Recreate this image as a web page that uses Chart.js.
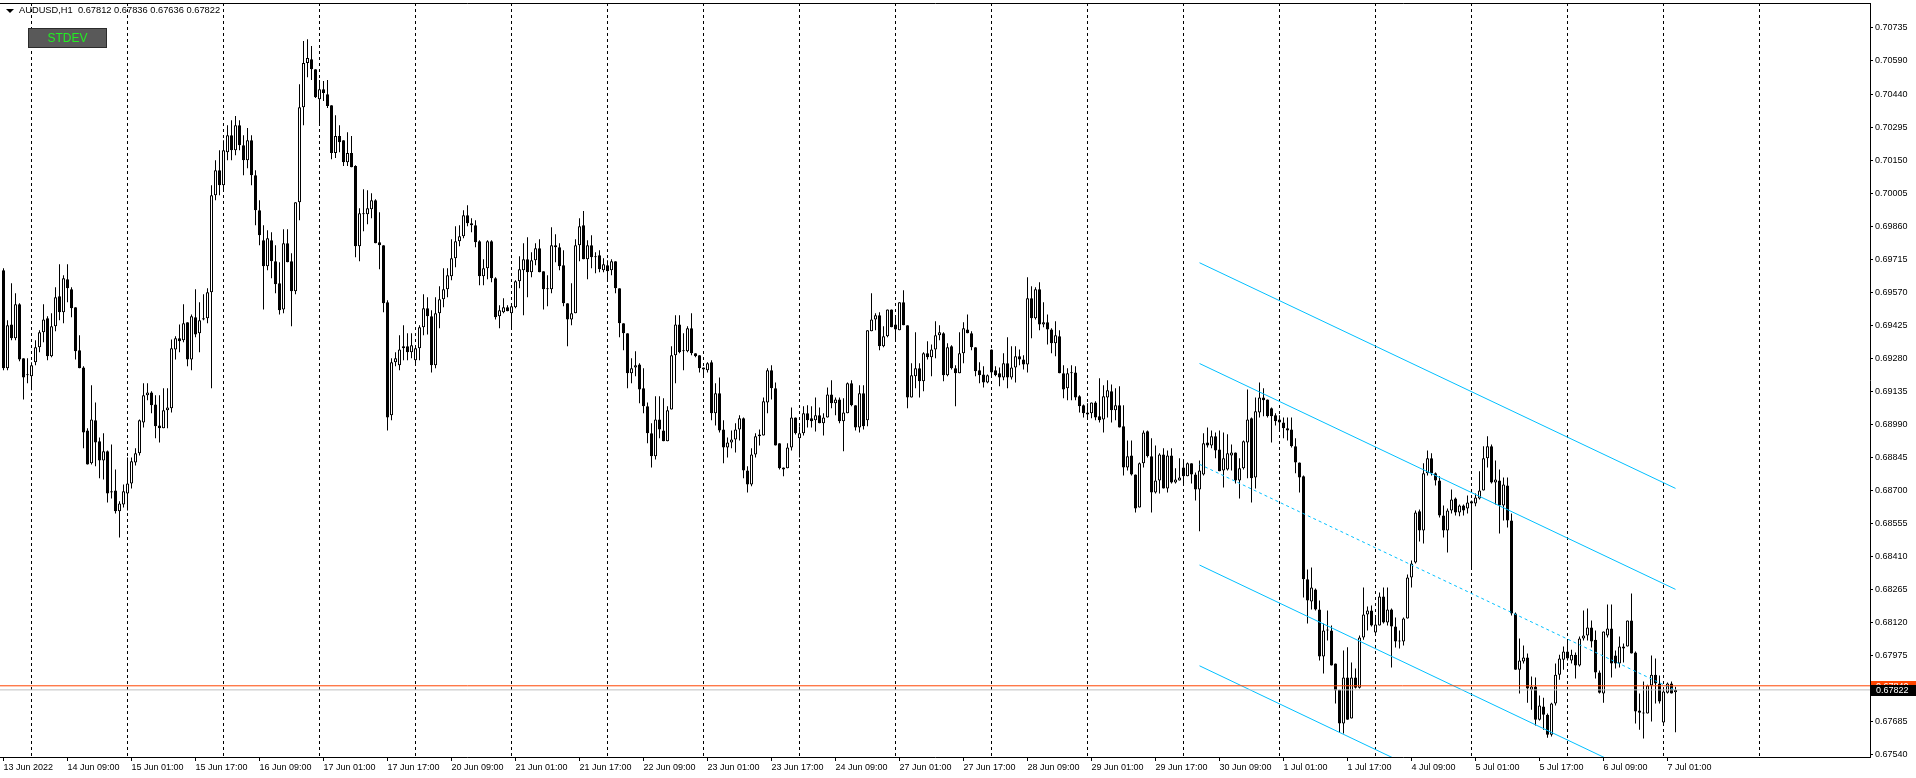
<!DOCTYPE html>
<html>
<head>
<meta charset="utf-8">
<script src="https://cdn.jsdelivr.net/npm/chart.js@4.4.0/dist/chart.umd.min.js"></script>
<style>
  html, body { margin: 0; padding: 0; background: #fff; }
  #wrap { position: relative; width: 1916px; height: 778px; overflow: hidden; }
  #myChart { display: block; }
  #tri { position: absolute; left: 6px; top: 9px; width: 0; height: 0;
    border-left: 4px solid transparent; border-right: 4px solid transparent; border-top: 4px solid #000; }
  #header { position: absolute; left: 19px; top: 5px; font: 9.3px "Liberation Sans", Arial, sans-serif;
    line-height: 11px; color: #000; white-space: pre; }
  #btn { position: absolute; left: 28px; top: 28px; width: 79px; height: 20px; box-sizing: border-box;
    background: #595959; border: 1px solid #2b2b2b; color: #22ee22; text-align: center;
    font: 12px "Liberation Sans", Arial, sans-serif; line-height: 18px; }
</style>
</head>
<body>
<div id="wrap">
  <canvas id="myChart" width="1916" height="778"></canvas>
  <div id="tri"></div>
  <div id="header">AUDUSD,H1  0.67812 0.67836 0.67636 0.67822</div>
  <div id="btn">STDEV</div>
</div>
<script>
// hourly bars, 13 Jun 2022 17:00 .. 7 Jul 2022 03:00
const tickLabels = ["13 Jun 2022", "14 Jun 09:00", "15 Jun 01:00", "15 Jun 17:00", "16 Jun 09:00",
  "17 Jun 01:00", "17 Jun 17:00", "20 Jun 09:00", "21 Jun 01:00", "21 Jun 17:00", "22 Jun 09:00",
  "23 Jun 01:00", "23 Jun 17:00", "24 Jun 09:00", "27 Jun 01:00", "27 Jun 17:00", "28 Jun 09:00",
  "29 Jun 01:00", "29 Jun 17:00", "30 Jun 09:00", "1 Jul 01:00", "1 Jul 17:00", "4 Jul 09:00",
  "5 Jul 01:00", "5 Jul 17:00", "6 Jul 09:00", "7 Jul 01:00"];
const labelEvery = 16;   // bars between time labels
const firstMidnight = 7; // bar index of 14 Jun 00:00
const barsPerDay = 24;

const priceTicks = [0.67540, 0.67685, 0.67975, 0.68120, 0.68265, 0.68410, 0.68555, 0.68700,
  0.68845, 0.68990, 0.69135, 0.69280, 0.69425, 0.69570, 0.69715, 0.69860, 0.70005, 0.70150,
  0.70295, 0.70440, 0.70590, 0.70735];

const open = [
  0.69667,0.69236,0.69429,0.69368,0.69517,0.69280,0.69209,0.69201,0.69262,0.69328,
  0.69394,0.69456,0.69289,0.69421,0.69553,0.69482,0.69627,0.69583,0.69504,0.69315,
  0.69240,0.68963,0.68818,0.69007,0.68915,0.68831,0.68871,0.68695,0.68699,0.68607,
  0.68637,0.68686,0.68730,0.68822,0.68862,0.68998,0.69117,0.69130,0.69077,0.68985,
  0.68972,0.69051,0.69060,0.69319,0.69368,0.69359,0.69438,0.69275,0.69460,0.69390,
  0.69456,0.69456,0.69570,0.69997,0.70107,0.70041,0.70186,0.70261,0.70195,0.70305,
  0.70217,0.70151,0.70239,0.70085,0.69931,0.69799,0.69685,0.69799,0.69707,0.69610,
  0.69495,0.69786,0.69707,0.69575,0.69966,0.70384,0.70578,0.70595,0.70551,0.70419,
  0.70463,0.70441,0.70393,0.70182,0.70257,0.70239,0.70142,0.70182,0.70125,0.69773,
  0.69918,0.69913,0.69935,0.69975,0.69790,0.69777,0.69526,0.69029,0.69262,0.69249,
  0.69324,0.69333,0.69306,0.69271,0.69324,0.69416,0.69500,0.69465,0.69249,0.69478,
  0.69539,0.69583,0.69641,0.69720,0.69795,0.69817,0.69909,0.69874,0.69865,0.69795,
  0.69641,0.69676,0.69795,0.69632,0.69465,0.69482,0.69504,0.69478,0.69504,0.69619,
  0.69667,0.69715,0.69658,0.69711,0.69764,0.69663,0.69588,0.69583,0.69777,0.69768,
  0.69689,0.69522,0.69451,0.69478,0.69777,0.69865,0.69715,0.69777,0.69724,0.69733,
  0.69667,0.69689,0.69667,0.69707,0.69588,0.69434,0.69390,0.69214,0.69240,0.69253,
  0.69148,0.69069,0.68950,0.68849,0.69011,0.68963,0.68915,0.69055,0.69293,0.69429,
  0.69311,0.69311,0.69412,0.69302,0.69293,0.69240,0.69227,0.69262,0.69038,0.69126,
  0.68967,0.68888,0.68910,0.68923,0.68967,0.69016,0.68787,0.68725,0.68857,0.68937,
  0.68941,0.69086,0.69227,0.69148,0.68906,0.68800,0.68796,0.68888,0.69020,0.68928,
  0.68950,0.69038,0.69016,0.69007,0.69029,0.68994,0.69020,0.69121,0.69082,0.69099,
  0.69003,0.69038,0.69170,0.69073,0.68976,0.69126,0.69007,0.69399,0.69451,0.69469,
  0.69333,0.69377,0.69495,0.69429,0.69403,0.69526,0.69425,0.69108,0.69201,0.69236,
  0.69179,0.69302,0.69284,0.69319,0.69381,0.69390,0.69205,0.69333,0.69236,0.69214,
  0.69302,0.69407,0.69390,0.69328,0.69227,0.69209,0.69174,0.69319,0.69227,0.69214,
  0.69196,0.69258,0.69196,0.69240,0.69289,0.69275,0.69253,0.69544,0.69456,0.69583,
  0.69429,0.69438,0.69407,0.69346,0.69377,0.69214,0.69148,0.69218,0.69218,0.69113,
  0.69073,0.69042,0.69038,0.69086,0.69025,0.69011,0.69108,0.69135,0.69051,0.69073,
  0.68981,0.68800,0.68853,0.68769,0.68624,0.68818,0.68959,0.68849,0.68690,0.68743,
  0.68857,0.68708,0.68853,0.68734,0.68743,0.68800,0.68761,0.68818,0.68769,0.68703,
  0.68769,0.68910,0.68897,0.68937,0.68879,0.68787,0.68791,0.68853,0.68866,0.68743,
  0.68796,0.68910,0.69016,0.68756,0.69042,0.69108,0.69099,0.69060,0.69029,0.69011,
  0.68998,0.68972,0.68967,0.68893,0.68822,0.68761,0.68308,0.68211,0.68263,0.68175,
  0.67969,0.68083,0.68083,0.67938,0.67823,0.67674,0.67876,0.67696,0.67876,0.67832,
  0.68052,0.68154,0.68171,0.68074,0.68105,0.68233,0.68118,0.68175,0.68101,0.68035,
  0.68035,0.68136,0.68316,0.68382,0.68607,0.68523,0.68774,0.68840,0.68774,0.68743,
  0.68589,0.68523,0.68611,0.68664,0.68602,0.68633,0.68620,0.68651,0.68642,0.68664,
  0.68699,0.68840,0.68893,0.68734,0.68743,0.68633,0.68721,0.68567,0.68158,0.67911,
  0.67947,0.67964,0.67823,0.67837,0.67691,0.67749,0.67713,0.67625,0.67762,0.67889,
  0.67955,0.67991,0.67951,0.67977,0.67929,0.68048,0.68061,0.68096,0.68043,0.67898,
  0.67806,0.68061,0.68092,0.67973,0.67938,0.68004,0.68013,0.68127,0.67986,0.67731,
  0.67722,0.67718,0.67841,0.67889,0.67850,0.67679,0.67810,0.67850,0.67812
];
const high = [
  0.69676,0.69447,0.69610,0.69566,0.69522,0.69280,0.69280,0.69262,0.69359,0.69403,
  0.69517,0.69465,0.69478,0.69592,0.69693,0.69645,0.69693,0.69592,0.69504,0.69381,
  0.69245,0.68972,0.69161,0.69086,0.68932,0.68950,0.68875,0.68901,0.68791,0.68651,
  0.68725,0.68844,0.68844,0.68884,0.69011,0.69170,0.69170,0.69135,0.69117,0.69117,
  0.69148,0.69148,0.69363,0.69377,0.69429,0.69517,0.69438,0.69473,0.69583,0.69526,
  0.69561,0.69588,0.70041,0.70151,0.70195,0.70239,0.70305,0.70327,0.70345,0.70327,
  0.70261,0.70292,0.70261,0.70107,0.69975,0.69865,0.69843,0.69834,0.69777,0.69702,
  0.69847,0.69847,0.69742,0.69966,0.70485,0.70675,0.70683,0.70653,0.70551,0.70503,
  0.70499,0.70503,0.70393,0.70349,0.70305,0.70239,0.70274,0.70257,0.70129,0.69940,
  0.70023,0.70019,0.70006,0.69979,0.69922,0.69777,0.69535,0.69280,0.69306,0.69381,
  0.69425,0.69390,0.69390,0.69337,0.69425,0.69561,0.69548,0.69491,0.69548,0.69597,
  0.69676,0.69676,0.69803,0.69861,0.69865,0.69931,0.69953,0.69896,0.69887,0.69799,
  0.69715,0.69799,0.69799,0.69636,0.69513,0.69544,0.69513,0.69522,0.69623,0.69729,
  0.69786,0.69812,0.69746,0.69786,0.69803,0.69663,0.69645,0.69856,0.69825,0.69786,
  0.69755,0.69522,0.69610,0.69803,0.69896,0.69927,0.69799,0.69821,0.69746,0.69755,
  0.69720,0.69711,0.69715,0.69707,0.69588,0.69434,0.69390,0.69280,0.69311,0.69258,
  0.69236,0.69086,0.68994,0.69113,0.69113,0.69104,0.69069,0.69333,0.69469,0.69469,
  0.69390,0.69421,0.69478,0.69302,0.69293,0.69240,0.69262,0.69271,0.69170,0.69196,
  0.69007,0.68932,0.68963,0.68994,0.69029,0.69020,0.68805,0.68884,0.68950,0.68967,
  0.69108,0.69236,0.69249,0.69174,0.68906,0.68800,0.68906,0.69064,0.69020,0.68981,
  0.69069,0.69073,0.69069,0.69108,0.69064,0.69038,0.69152,0.69183,0.69108,0.69108,
  0.69104,0.69174,0.69183,0.69073,0.69161,0.69161,0.69403,0.69566,0.69478,0.69482,
  0.69421,0.69495,0.69495,0.69460,0.69526,0.69579,0.69425,0.69258,0.69394,0.69258,
  0.69306,0.69355,0.69341,0.69443,0.69425,0.69394,0.69346,0.69337,0.69249,0.69394,
  0.69438,0.69473,0.69399,0.69328,0.69262,0.69245,0.69209,0.69319,0.69245,0.69240,
  0.69302,0.69372,0.69333,0.69333,0.69319,0.69293,0.69636,0.69597,0.69592,0.69614,
  0.69526,0.69473,0.69412,0.69443,0.69403,0.69249,0.69236,0.69249,0.69245,0.69117,
  0.69077,0.69082,0.69086,0.69091,0.69192,0.69161,0.69183,0.69165,0.69148,0.69157,
  0.69073,0.68919,0.68919,0.68769,0.68822,0.68963,0.68963,0.68928,0.68897,0.68862,
  0.68884,0.68875,0.68884,0.68796,0.68840,0.68831,0.68822,0.68818,0.68778,0.68831,
  0.68950,0.68976,0.68963,0.68954,0.68963,0.68954,0.68946,0.68901,0.68866,0.68840,
  0.68919,0.69143,0.69020,0.69108,0.69174,0.69148,0.69099,0.69064,0.69038,0.69029,
  0.69020,0.69020,0.69020,0.68928,0.68822,0.68765,0.68351,0.68360,0.68268,0.68215,
  0.68114,0.68171,0.68105,0.67938,0.67823,0.67995,0.68009,0.67942,0.67916,0.68061,
  0.68272,0.68189,0.68193,0.68140,0.68250,0.68272,0.68272,0.68180,0.68140,0.68083,
  0.68140,0.68329,0.68391,0.68611,0.68615,0.68818,0.68875,0.68862,0.68778,0.68761,
  0.68633,0.68620,0.68703,0.68668,0.68637,0.68637,0.68677,0.68655,0.68686,0.68783,
  0.68893,0.68937,0.68901,0.68831,0.68791,0.68756,0.68756,0.68598,0.68162,0.68048,
  0.68017,0.67982,0.67881,0.67876,0.67797,0.67788,0.67718,0.67766,0.67938,0.67977,
  0.68013,0.68043,0.67999,0.67986,0.68057,0.68171,0.68180,0.68127,0.68083,0.67907,
  0.68079,0.68197,0.68197,0.67995,0.68057,0.68026,0.68127,0.68246,0.67991,0.67806,
  0.67859,0.67845,0.67973,0.67960,0.67885,0.67827,0.67854,0.67859,0.67836
];
const low = [
  0.69227,0.69227,0.69359,0.69359,0.69267,0.69099,0.69170,0.69139,0.69249,0.69306,
  0.69350,0.69271,0.69284,0.69399,0.69447,0.69434,0.69526,0.69460,0.69275,0.69236,
  0.68884,0.68813,0.68813,0.68805,0.68752,0.68747,0.68646,0.68664,0.68598,0.68492,
  0.68624,0.68611,0.68708,0.68809,0.68853,0.68976,0.69095,0.69038,0.68928,0.68910,
  0.68972,0.68972,0.69042,0.69275,0.69306,0.69350,0.69245,0.69227,0.69372,0.69306,
  0.69447,0.69434,0.69148,0.69975,0.69997,0.70019,0.70151,0.70151,0.70173,0.70195,
  0.70085,0.70116,0.70041,0.69865,0.69777,0.69495,0.69667,0.69632,0.69566,0.69473,
  0.69478,0.69702,0.69421,0.69561,0.69887,0.70305,0.70516,0.70503,0.70424,0.70305,
  0.70411,0.70380,0.70155,0.70160,0.70186,0.70125,0.70125,0.70120,0.69724,0.69707,
  0.69839,0.69869,0.69896,0.69786,0.69671,0.69482,0.68963,0.69007,0.69245,0.69227,
  0.69271,0.69271,0.69280,0.69249,0.69271,0.69381,0.69385,0.69218,0.69236,0.69412,
  0.69504,0.69548,0.69623,0.69680,0.69773,0.69808,0.69861,0.69834,0.69768,0.69601,
  0.69601,0.69627,0.69614,0.69451,0.69412,0.69478,0.69487,0.69412,0.69500,0.69588,
  0.69469,0.69548,0.69636,0.69689,0.69658,0.69495,0.69509,0.69566,0.69702,0.69667,
  0.69509,0.69333,0.69425,0.69478,0.69707,0.69715,0.69627,0.69676,0.69654,0.69658,
  0.69658,0.69623,0.69645,0.69566,0.69372,0.69315,0.69148,0.69170,0.69201,0.69082,
  0.69038,0.68906,0.68800,0.68835,0.68928,0.68915,0.68915,0.69055,0.69170,0.69302,
  0.69227,0.69306,0.69293,0.69284,0.69218,0.69201,0.69218,0.69007,0.68985,0.68954,
  0.68818,0.68844,0.68884,0.68866,0.68919,0.68752,0.68690,0.68717,0.68844,0.68897,
  0.68941,0.69038,0.69099,0.68897,0.68791,0.68761,0.68796,0.68875,0.68945,0.68844,
  0.68941,0.68976,0.68976,0.68958,0.68994,0.68941,0.69020,0.69060,0.69029,0.68994,
  0.68871,0.69038,0.69069,0.68963,0.68954,0.68967,0.68981,0.69399,0.69403,0.69315,
  0.69328,0.69372,0.69416,0.69355,0.69403,0.69425,0.69060,0.69108,0.69148,0.69108,
  0.69135,0.69275,0.69201,0.69280,0.69359,0.69179,0.69201,0.69231,0.69069,0.69214,
  0.69258,0.69390,0.69315,0.69201,0.69170,0.69152,0.69170,0.69196,0.69201,0.69157,
  0.69183,0.69148,0.69187,0.69174,0.69249,0.69231,0.69218,0.69368,0.69451,0.69403,
  0.69416,0.69341,0.69302,0.69289,0.69214,0.69104,0.69095,0.69095,0.69095,0.69042,
  0.69020,0.69020,0.69016,0.69007,0.68998,0.68954,0.69020,0.68998,0.69007,0.68976,
  0.68765,0.68787,0.68765,0.68602,0.68624,0.68800,0.68844,0.68602,0.68686,0.68686,
  0.68708,0.68690,0.68730,0.68730,0.68743,0.68721,0.68761,0.68730,0.68655,0.68519,
  0.68765,0.68888,0.68884,0.68840,0.68783,0.68712,0.68787,0.68787,0.68730,0.68664,
  0.68791,0.68752,0.68646,0.68708,0.69020,0.69025,0.69020,0.68910,0.68985,0.68967,
  0.68928,0.68919,0.68888,0.68774,0.68690,0.68228,0.68114,0.68175,0.68171,0.67951,
  0.67894,0.68039,0.67929,0.67762,0.67634,0.67630,0.67691,0.67696,0.67828,0.67828,
  0.68043,0.68083,0.68101,0.68070,0.68105,0.68114,0.68105,0.67920,0.68008,0.68004,
  0.68017,0.68136,0.68272,0.68378,0.68475,0.68466,0.68765,0.68765,0.68721,0.68580,
  0.68492,0.68426,0.68598,0.68589,0.68585,0.68589,0.68598,0.68356,0.68629,0.68659,
  0.68699,0.68800,0.68730,0.68637,0.68510,0.68567,0.68536,0.68149,0.67911,0.67806,
  0.67938,0.67766,0.67735,0.67665,0.67687,0.67647,0.67612,0.67617,0.67753,0.67867,
  0.67911,0.67951,0.67938,0.67872,0.67925,0.68039,0.68039,0.68008,0.67872,0.67806,
  0.67766,0.68052,0.67876,0.67916,0.67920,0.67942,0.68013,0.67982,0.67674,0.67647,
  0.67608,0.67718,0.67683,0.67762,0.67762,0.67674,0.67806,0.67806,0.67636
];
const close = [
  0.69236,0.69425,0.69368,0.69517,0.69275,0.69196,0.69205,0.69249,0.69328,0.69394,
  0.69451,0.69289,0.69421,0.69548,0.69482,0.69632,0.69588,0.69500,0.69311,0.69236,
  0.68954,0.68813,0.69011,0.68910,0.68831,0.68871,0.68686,0.68690,0.68607,0.68642,
  0.68695,0.68730,0.68827,0.68862,0.69007,0.69117,0.69130,0.69073,0.68981,0.68972,
  0.69051,0.69064,0.69324,0.69368,0.69355,0.69434,0.69275,0.69465,0.69385,0.69447,
  0.69451,0.69570,0.69997,0.70107,0.70041,0.70195,0.70261,0.70195,0.70305,0.70217,
  0.70151,0.70239,0.70085,0.69931,0.69821,0.69685,0.69808,0.69707,0.69605,0.69491,
  0.69786,0.69702,0.69575,0.69966,0.70384,0.70578,0.70600,0.70551,0.70428,0.70463,
  0.70446,0.70389,0.70182,0.70257,0.70230,0.70142,0.70182,0.70120,0.69773,0.69918,
  0.69913,0.69940,0.69975,0.69786,0.69777,0.69522,0.69020,0.69262,0.69280,0.69319,
  0.69333,0.69306,0.69337,0.69324,0.69416,0.69500,0.69465,0.69249,0.69478,0.69539,
  0.69583,0.69645,0.69720,0.69795,0.69817,0.69909,0.69874,0.69865,0.69790,0.69641,
  0.69676,0.69795,0.69632,0.69460,0.69491,0.69504,0.69487,0.69509,0.69619,0.69671,
  0.69715,0.69658,0.69711,0.69764,0.69658,0.69583,0.69583,0.69777,0.69768,0.69685,
  0.69522,0.69451,0.69478,0.69777,0.69861,0.69715,0.69777,0.69724,0.69724,0.69671,
  0.69693,0.69663,0.69707,0.69588,0.69434,0.69390,0.69214,0.69236,0.69249,0.69143,
  0.69069,0.68950,0.68849,0.69011,0.68967,0.68915,0.69051,0.69293,0.69429,0.69306,
  0.69311,0.69412,0.69302,0.69289,0.69236,0.69231,0.69258,0.69038,0.69126,0.68963,
  0.68888,0.68910,0.68923,0.68967,0.69016,0.68787,0.68725,0.68857,0.68937,0.68945,
  0.69091,0.69227,0.69148,0.68897,0.68796,0.68791,0.68888,0.69020,0.68950,0.68950,
  0.69038,0.69007,0.69003,0.69029,0.68994,0.69020,0.69121,0.69082,0.69099,0.69003,
  0.69042,0.69170,0.69073,0.68976,0.69126,0.68981,0.69403,0.69451,0.69469,0.69333,
  0.69377,0.69495,0.69416,0.69407,0.69526,0.69425,0.69108,0.69205,0.69236,0.69179,
  0.69302,0.69284,0.69319,0.69381,0.69394,0.69205,0.69328,0.69236,0.69214,0.69302,
  0.69412,0.69390,0.69328,0.69223,0.69205,0.69174,0.69205,0.69218,0.69205,0.69196,
  0.69258,0.69196,0.69240,0.69289,0.69275,0.69253,0.69544,0.69456,0.69583,0.69429,
  0.69438,0.69407,0.69346,0.69381,0.69214,0.69143,0.69214,0.69214,0.69108,0.69069,
  0.69038,0.69033,0.69086,0.69020,0.69007,0.69113,0.69139,0.69051,0.69073,0.68976,
  0.68800,0.68849,0.68769,0.68620,0.68818,0.68954,0.68849,0.68690,0.68743,0.68857,
  0.68708,0.68853,0.68734,0.68747,0.68756,0.68761,0.68818,0.68769,0.68703,0.68787,
  0.68906,0.68897,0.68937,0.68875,0.68783,0.68840,0.68862,0.68866,0.68743,0.68796,
  0.68915,0.69011,0.68752,0.69047,0.69108,0.69095,0.69025,0.69025,0.69003,0.68998,
  0.68972,0.68963,0.68893,0.68822,0.68756,0.68308,0.68215,0.68272,0.68175,0.67969,
  0.68083,0.68083,0.67929,0.67819,0.67674,0.67876,0.67691,0.67876,0.67832,0.68052,
  0.68154,0.68171,0.68105,0.68109,0.68233,0.68118,0.68175,0.68101,0.68035,0.68035,
  0.68136,0.68316,0.68378,0.68602,0.68523,0.68774,0.68840,0.68774,0.68743,0.68589,
  0.68523,0.68611,0.68659,0.68602,0.68633,0.68611,0.68646,0.68642,0.68668,0.68699,
  0.68840,0.68893,0.68734,0.68747,0.68633,0.68725,0.68567,0.68158,0.67911,0.67951,
  0.67964,0.67828,0.67837,0.67691,0.67753,0.67713,0.67625,0.67762,0.67889,0.67960,
  0.67991,0.67960,0.67977,0.67929,0.68048,0.68061,0.68096,0.68035,0.67898,0.67810,
  0.68079,0.68092,0.67938,0.67938,0.68013,0.68013,0.68127,0.67982,0.67727,0.67722,
  0.67718,0.67841,0.67889,0.67850,0.67771,0.67815,0.67850,0.67806,0.67822
];

// standard deviation channel: bar range and the five line levels at each end
const channelBars = [299, 418];
const channelStart = [0.69700, 0.69257, 0.68814, 0.68371, 0.67928];
const channelEnd = [0.68708, 0.68264, 0.67820, 0.67376, 0.66932];

const askPrice = 0.67840;
const bidPrice = 0.67822;

// view window
const xMin = -0.875, xMax = 466.625;
const yMin = 0.67527, yMax = 0.70842;

const FONT = { family: "'Liberation Sans', Arial, sans-serif", size: 9 };
const CHANNEL_COLOR = "#00bfff";

function noPad(scale) {
  scale.paddingLeft = 0; scale.paddingRight = 0;
  scale.paddingTop = 0; scale.paddingBottom = 0;
}

const datasets = [];

datasets.push({
  type: "bar",
  data: open.map((o, i) => ({ x: i, y: [low[i], high[i]] })),
  backgroundColor: "#000",
  borderWidth: 0,
  barThickness: 1,
  grouped: false,
  inflateAmount: 0,
  order: 3,
  xAxisID: "x",
  yAxisID: "y",
});

datasets.push({
  type: "bar",
  data: open.map((o, i) => ({ x: i, y: [o, close[i]] })),
  backgroundColor: open.map((o, i) => (close[i] >= o ? "#fff" : "#000")),
  borderColor: "#000",
  borderWidth: 1,
  borderSkipped: false,
  barThickness: 3,
  minBarLength: 1,
  grouped: false,
  inflateAmount: 0,
  order: 2,
  xAxisID: "x",
  yAxisID: "y",
});

for (let k = 0; k < channelStart.length; k++) {
  datasets.push({
    type: "line",
    data: [
      { x: channelBars[0], y: channelStart[k] },
      { x: channelBars[1], y: channelEnd[k] },
    ],
    borderColor: CHANNEL_COLOR,
    borderWidth: 1,
    borderDash: k === 2 ? [3, 3] : [],
    pointRadius: 0,
    order: 1,
    xAxisID: "x",
    yAxisID: "y",
  });
}

[[askPrice, "#ff4500"], [bidPrice, "#c0c0c0"]].forEach(([p, c]) => {
  datasets.push({
    type: "line",
    data: [{ x: xMin, y: p }, { x: xMax, y: p }],
    borderColor: c,
    borderWidth: 1,
    pointRadius: 0,
    order: 0,
    xAxisID: "x",
    yAxisID: "y",
  });
});

// price tags on the right axis for ask / bid
const priceTags = {
  id: "priceTags",
  afterDraw(chart) {
    const { ctx, chartArea, scales } = chart;
    const y = scales.y;
    const tag = (v, bg) => {
      const py = Math.round(y.getPixelForValue(v));
      ctx.save();
      ctx.fillStyle = bg;
      ctx.fillRect(chartArea.right + 1, py - 5, chart.width - chartArea.right - 1, 11);
      ctx.fillStyle = "#fff";
      ctx.font = "9px 'Liberation Sans', Arial, sans-serif";
      ctx.textBaseline = "middle";
      ctx.fillText(v.toFixed(5), chartArea.right + 6, py + 0.5);
      ctx.restore();
    };
    tag(askPrice, "#ff4500");
    tag(bidPrice, "#000");
  },
};

new Chart(document.getElementById("myChart"), {
  type: "bar",
  data: { datasets: datasets },
  options: {
    responsive: false,
    animation: false,
    devicePixelRatio: 1,
    events: [],
    layout: { padding: 0 },
    plugins: { legend: { display: false }, tooltip: { enabled: false } },
    scales: {
      x: {
        type: "linear",
        position: "bottom",
        min: xMin,
        max: xMax,
        offset: false,
        afterBuildTicks: (s) => {
          s.ticks = tickLabels.map((t, k) => ({ value: k * labelEvery }));
        },
        afterFit: (s) => { s.height = 21; noPad(s); },
        ticks: {
          autoSkip: false,
          maxRotation: 0,
          align: "start",
          padding: 1,
          color: "#000",
          font: FONT,
          callback: (v, i) => tickLabels[i],
        },
        grid: { offset: false, drawOnChartArea: false, tickLength: 4, color: "#000" },
        border: { color: "#000", width: 1 },
      },
      xg: {
        type: "linear",
        position: "bottom",
        min: xMin,
        max: xMax,
        offset: false,
        afterBuildTicks: (s) => {
          const t = [];
          for (let b = firstMidnight; b <= 439; b += barsPerDay) t.push({ value: b });
          s.ticks = t;
        },
        afterFit: (s) => { s.height = 0; noPad(s); },
        ticks: { display: false },
        grid: { offset: false, drawTicks: false, color: "#000", lineWidth: 1 },
        border: { display: false, dash: [3, 3] },
      },
      xt: {
        type: "linear",
        position: "top",
        min: xMin,
        max: xMax,
        offset: false,
        afterFit: (s) => { s.height = 3; noPad(s); },
        ticks: { display: false },
        grid: { display: false },
        border: { color: "#000", width: 1 },
      },
      y: {
        type: "linear",
        position: "right",
        min: yMin,
        max: yMax,
        afterBuildTicks: (s) => {
          s.ticks = priceTicks.map((v) => ({ value: v }));
        },
        afterFit: (s) => { s.width = 46; noPad(s); },
        ticks: {
          autoSkip: false,
          padding: 2,
          color: "#000",
          font: FONT,
          callback: (v) => Number(v).toFixed(5),
        },
        grid: { drawOnChartArea: false, tickLength: 3, color: "#000" },
        border: { color: "#000", width: 1 },
      },
    },
  },
  plugins: [priceTags],
});
</script>
</body>
</html>
